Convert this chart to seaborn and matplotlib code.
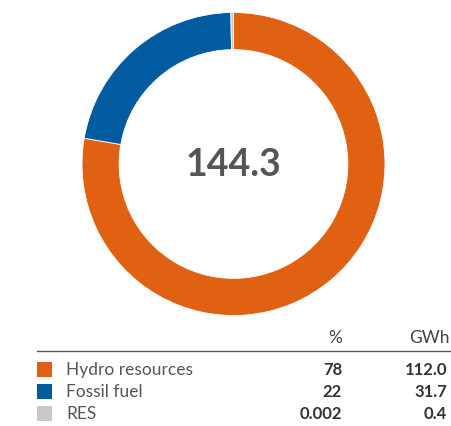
import matplotlib
matplotlib.use("Agg")
import matplotlib.pyplot as plt
import seaborn as sns
from matplotlib.patches import Rectangle
from matplotlib.lines import Line2D

categories = ["Hydro resources", "Fossil fuel", "RES"]
percent_labels = ["78", "22", "0.002"]
gwh_values = [112.0, 31.7, 0.4]
gwh_labels = ["112.0", "31.7", "0.4"]
total_label = "144.3"
colors = ["#E06112", "#005BA1", "#C8C8C8"]

sns.set_theme(style="white")
plt.rcParams['font.family'] = ['Lato', 'DejaVu Sans']

W, H = 451, 427
fig = plt.figure(figsize=(W / 100, H / 100), dpi=100)
fig.patch.set_facecolor("white")

cx, cy, R = 233.5, 165.0, 151.5
ax = fig.add_axes([(cx - R) / W, (H - cy - R) / H, 2 * R / W, 2 * R / H])
ax.pie(gwh_values, colors=colors, startangle=90, counterclock=False,
       radius=1.0, wedgeprops=dict(width=0.245, edgecolor="white", linewidth=0.6))
ax.set_xlim(-1, 1)
ax.set_ylim(-1, 1)
ax.set_aspect("equal")
ax.axis("off")
ax.text(0, 0, total_label, ha="center", va="center", fontsize=27,
        color="#555555", fontweight="bold")

def fx(x):
    return x / W

def fy(y):
    return 1 - y / H

# header
fig.text(fx(342), fy(338), "%", ha="right", va="center", fontsize=12.5, color="#444444")
fig.text(fx(450), fy(338), "GWh", ha="right", va="center", fontsize=12.5, color="#444444")
fig.add_artist(Line2D([fx(37), fx(451)], [fy(352), fy(352)], color="#555555", lw=1.0,
                      transform=fig.transFigure))

row_y = [370.5, 392.5, 414]
for i, cat in enumerate(categories):
    y = row_y[i]
    fig.add_artist(Rectangle((fx(37), fy(y + 7.5)), 15 / W, 15 / H, facecolor=colors[i],
                             edgecolor="none", transform=fig.transFigure))
    fig.text(fx(66), fy(y), cat, ha="left", va="center", fontsize=12.5, color="#555555")
    fig.text(fx(342), fy(y), percent_labels[i], ha="right", va="center", fontsize=12,
             color="#333333", fontweight="bold")
    fig.text(fx(447), fy(y), gwh_labels[i], ha="right", va="center", fontsize=12,
             color="#333333", fontweight="bold")

fig.savefig("out.png", dpi=100, facecolor="white")
